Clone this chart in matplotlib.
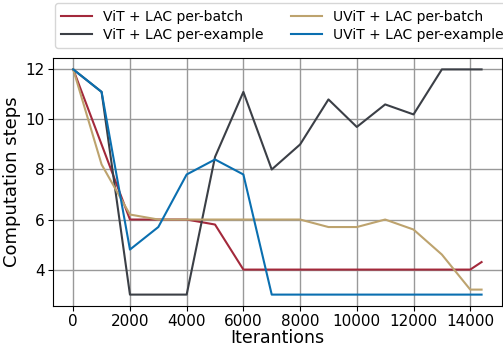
import numpy as np
import matplotlib
matplotlib.use("Agg")
import matplotlib.pyplot as plt

iters = [0, 1000, 2000, 3000, 4000, 5000, 6000, 7000, 8000, 9000, 10000,
         11000, 12000, 13000, 14000, 14400]

vit_batch = [12, 9.0, 6.0, 6.0, 6.0, 5.8, 4.0, 4.0, 4.0, 4.0, 4.0,
             4.0, 4.0, 4.0, 4.0, 4.3]
vit_example = [12, 11.1, 3.0, 3.0, 3.0, 8.5, 11.1, 8.0, 9.0, 10.8, 9.7,
               10.6, 10.2, 12.0, 12.0, 12.0]
uvit_batch = [12, 8.2, 6.2, 6.0, 6.0, 6.0, 6.0, 6.0, 6.0, 5.7, 5.7,
              6.0, 5.6, 4.6, 3.2, 3.2]
uvit_example = [12, 11.1, 4.8, 5.7, 7.8, 8.4, 7.8, 3.0, 3.0, 3.0, 3.0,
                3.0, 3.0, 3.0, 3.0, 3.0]

fig = plt.figure(figsize=(5.03, 3.46), dpi=100)
ax = fig.add_axes([0.105, 0.116, 0.893, 0.716])

ax.plot(iters, vit_batch, color="#a3293b", lw=1.5, label="ViT + LAC per-batch")
ax.plot(iters, vit_example, color="#3b3f46", lw=1.5, label="ViT + LAC per-example")
ax.plot(iters, uvit_batch, color="#bda36e", lw=1.5, label="UViT + LAC per-batch")
ax.plot(iters, uvit_example, color="#0a6fb0", lw=1.5, label="UViT + LAC per-example")

ax.set_xticks([0, 2000, 4000, 6000, 8000, 10000, 12000, 14000])
ax.set_yticks([4, 6, 8, 10, 12])
ax.grid(True, color="#999999", lw=1.0)
ax.tick_params(labelsize=11, pad=2.5)
ax.set_xlabel("Iterantions", fontsize=12.5, labelpad=0)
ax.set_ylabel("Computation steps", fontsize=13, labelpad=3)

ax.legend(loc="lower left", bbox_to_anchor=(0.109, 0.861),
          bbox_transform=fig.transFigure, ncol=2, fontsize=10,
          handlelength=2.2, columnspacing=2.0, borderaxespad=0,
          labelspacing=0.3, borderpad=0.45)

fig.savefig("out.png", dpi=100)
